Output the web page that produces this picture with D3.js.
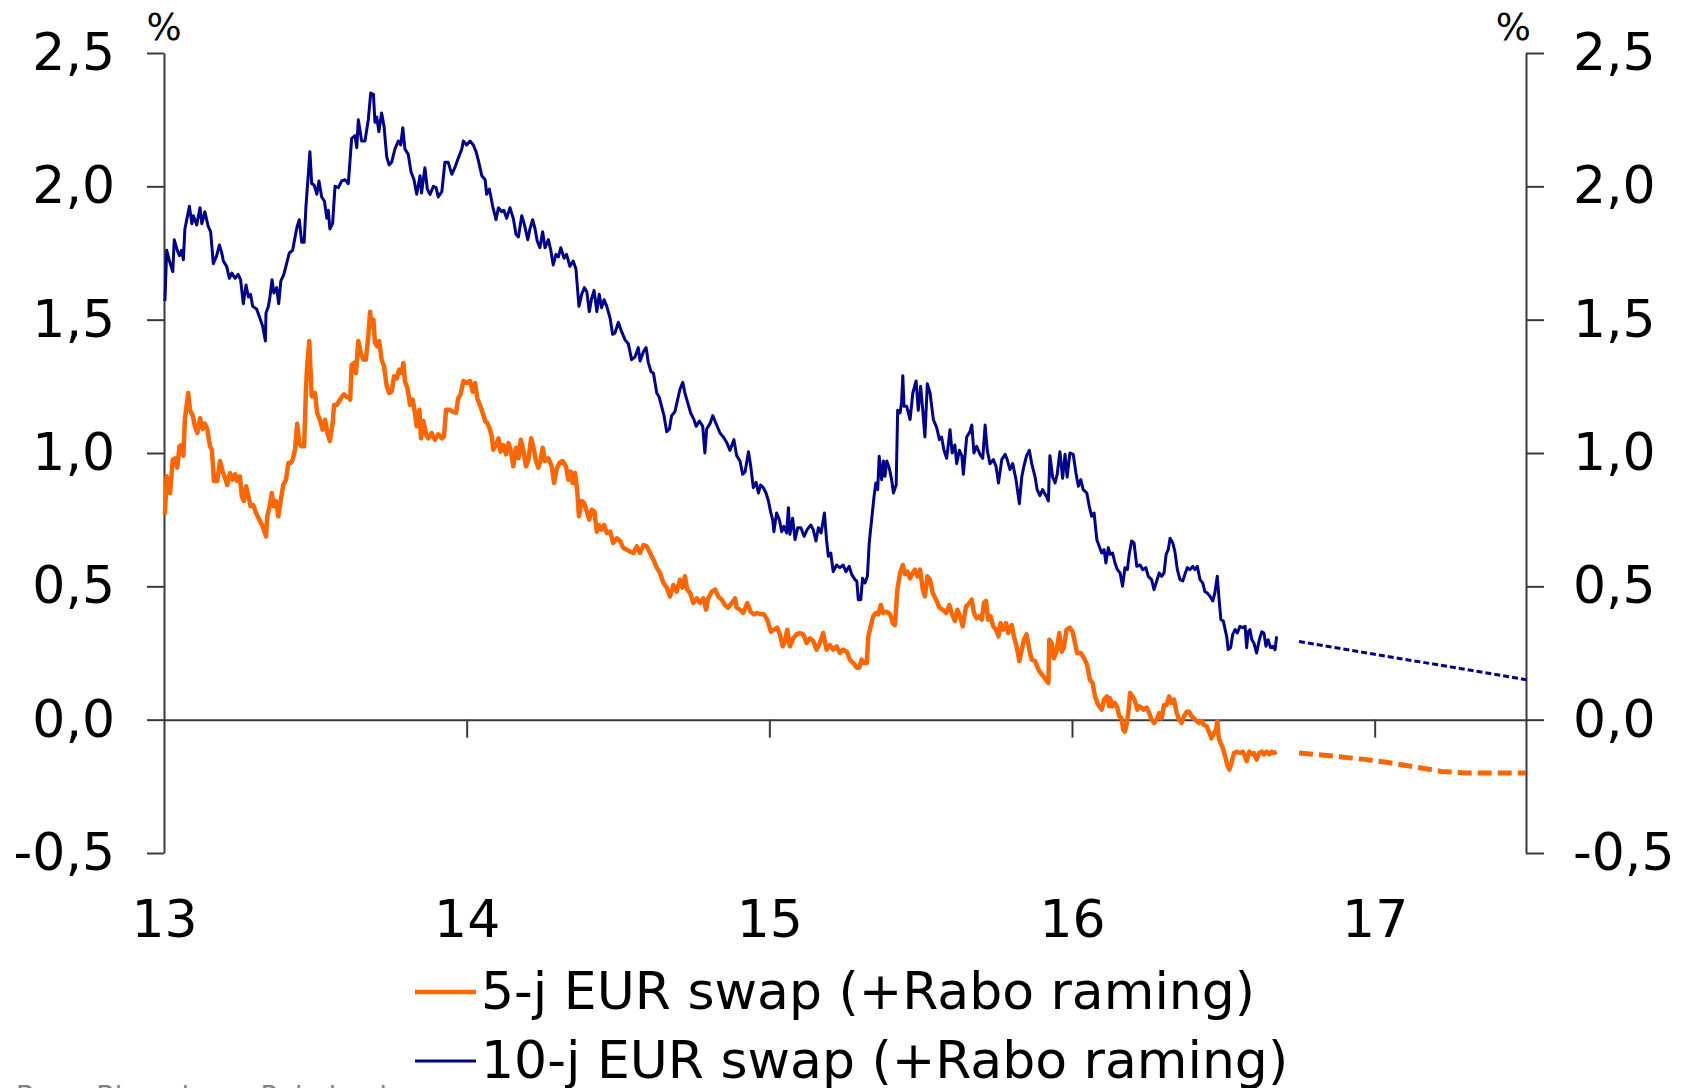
<!DOCTYPE html>
<html>
<head>
<meta charset="utf-8">
<script src="https://cdnjs.cloudflare.com/ajax/libs/d3/7.8.5/d3.min.js"></script>
<style>
  body { margin: 0; background: #ffffff; }
  svg text { font-family: "DejaVu Sans", Verdana, sans-serif; }
</style>
</head>
<body>
<div id="chart"></div>
<script>
// Tick values / labels
var yearTicks = [2013, 2014, 2015, 2016, 2017];
var rateTicks = [-0.5, 0, 0.5, 1, 1.5, 2, 2.5];
var seriesNames = ["5-j EUR swap (+Rabo raming)", "10-j EUR swap (+Rabo raming)"];
var sourceText = "Bron: Bloomberg, Rabobank";

// 10-year EUR swap, [decimal year, %]
var swap10 = [[2013.003,1.57],[2013.009,1.76],[2013.018,1.72],[2013.029,1.68],[2013.034,1.80],[2013.044,1.76],[2013.051,1.74],[2013.058,1.76],[2013.064,1.725],[2013.069,1.84],[2013.084,1.925],[2013.092,1.86],[2013.097,1.89],[2013.108,1.855],[2013.119,1.92],[2013.125,1.86],[2013.135,1.905],[2013.146,1.85],[2013.154,1.83],[2013.163,1.71],[2013.174,1.74],[2013.183,1.78],[2013.191,1.75],[2013.196,1.72],[2013.207,1.70],[2013.216,1.655],[2013.224,1.675],[2013.235,1.655],[2013.245,1.67],[2013.253,1.65],[2013.262,1.56],[2013.271,1.63],[2013.279,1.585],[2013.286,1.595],[2013.293,1.55],[2013.306,1.54],[2013.317,1.505],[2013.326,1.475],[2013.335,1.42],[2013.337,1.525],[2013.345,1.55],[2013.350,1.585],[2013.357,1.65],[2013.363,1.60],[2013.372,1.62],[2013.379,1.56],[2013.386,1.645],[2013.396,1.67],[2013.405,1.71],[2013.414,1.75],[2013.425,1.76],[2013.433,1.81],[2013.440,1.85],[2013.447,1.875],[2013.455,1.79],[2013.463,1.79],[2013.469,1.925],[2013.477,2.05],[2013.482,2.13],[2013.488,2.01],[2013.496,2.005],[2013.505,1.97],[2013.512,2.02],[2013.521,1.96],[2013.530,1.945],[2013.538,1.88],[2013.543,1.91],[2013.548,1.84],[2013.557,1.86],[2013.565,2.0],[2013.576,1.995],[2013.587,2.02],[2013.598,2.025],[2013.609,2.01],[2013.620,2.18],[2013.631,2.19],[2013.637,2.145],[2013.642,2.25],[2013.653,2.17],[2013.664,2.17],[2013.675,2.25],[2013.683,2.35],[2013.692,2.345],[2013.697,2.24],[2013.703,2.26],[2013.710,2.205],[2013.719,2.275],[2013.727,2.225],[2013.736,2.11],[2013.744,2.08],[2013.752,2.09],[2013.763,2.14],[2013.774,2.17],[2013.782,2.155],[2013.789,2.22],[2013.796,2.14],[2013.807,2.12],[2013.816,2.055],[2013.826,2.025],[2013.835,1.97],[2013.846,2.04],[2013.851,1.975],[2013.862,2.07],[2013.870,1.99],[2013.879,1.97],[2013.890,2.0],[2013.899,1.995],[2013.906,1.96],[2013.918,1.98],[2013.928,2.09],[2013.939,2.09],[2013.951,2.045],[2013.961,2.07],[2013.972,2.105],[2013.984,2.14],[2013.989,2.17],[2014.000,2.155],[2014.011,2.17],[2014.022,2.155],[2014.031,2.13],[2014.038,2.10],[2014.050,2.04],[2014.061,2.025],[2014.066,1.97],[2014.075,1.99],[2014.086,1.925],[2014.097,1.875],[2014.105,1.92],[2014.116,1.905],[2014.123,1.91],[2014.132,1.88],[2014.143,1.92],[2014.154,1.88],[2014.163,1.82],[2014.171,1.81],[2014.182,1.89],[2014.190,1.86],[2014.202,1.80],[2014.209,1.84],[2014.218,1.875],[2014.226,1.84],[2014.233,1.795],[2014.242,1.77],[2014.251,1.83],[2014.259,1.77],[2014.270,1.80],[2014.278,1.76],[2014.286,1.705],[2014.295,1.745],[2014.303,1.735],[2014.311,1.77],[2014.322,1.73],[2014.330,1.745],[2014.341,1.70],[2014.352,1.72],[2014.361,1.69],[2014.371,1.55],[2014.380,1.595],[2014.389,1.62],[2014.397,1.605],[2014.405,1.53],[2014.413,1.58],[2014.421,1.61],[2014.430,1.53],[2014.438,1.595],[2014.446,1.545],[2014.454,1.575],[2014.463,1.55],[2014.474,1.505],[2014.482,1.445],[2014.490,1.45],[2014.501,1.49],[2014.512,1.455],[2014.523,1.425],[2014.534,1.41],[2014.545,1.35],[2014.556,1.36],[2014.567,1.395],[2014.573,1.345],[2014.584,1.38],[2014.593,1.395],[2014.600,1.34],[2014.609,1.305],[2014.617,1.30],[2014.628,1.225],[2014.636,1.21],[2014.644,1.175],[2014.652,1.14],[2014.661,1.08],[2014.670,1.09],[2014.677,1.14],[2014.688,1.155],[2014.697,1.20],[2014.705,1.24],[2014.714,1.265],[2014.721,1.225],[2014.730,1.19],[2014.740,1.15],[2014.751,1.125],[2014.758,1.10],[2014.769,1.12],[2014.780,1.10],[2014.787,1.0],[2014.793,1.09],[2014.804,1.11],[2014.813,1.14],[2014.824,1.11],[2014.837,1.075],[2014.848,1.06],[2014.859,1.04],[2014.870,1.01],[2014.883,1.05],[2014.892,0.99],[2014.903,0.97],[2014.912,0.92],[2014.920,0.93],[2014.931,1.005],[2014.938,0.955],[2014.947,0.87],[2014.956,0.89],[2014.964,0.85],[2014.971,0.88],[2014.980,0.87],[2014.989,0.85],[2014.997,0.82],[2015.005,0.775],[2015.011,0.75],[2015.015,0.705],[2015.024,0.775],[2015.033,0.75],[2015.041,0.705],[2015.048,0.725],[2015.057,0.70],[2015.063,0.795],[2015.068,0.695],[2015.077,0.755],[2015.085,0.675],[2015.094,0.72],[2015.104,0.72],[2015.115,0.6875],[2015.125,0.7125],[2015.137,0.73],[2015.145,0.7125],[2015.154,0.67],[2015.162,0.72],[2015.171,0.70],[2015.182,0.775],[2015.189,0.675],[2015.195,0.6125],[2015.203,0.625],[2015.211,0.555],[2015.222,0.58],[2015.233,0.57],[2015.244,0.58],[2015.253,0.555],[2015.264,0.575],[2015.272,0.545],[2015.283,0.525],[2015.289,0.52],[2015.294,0.45],[2015.302,0.45],[2015.308,0.53],[2015.316,0.5125],[2015.324,0.5375],[2015.330,0.6625],[2015.338,0.75],[2015.346,0.8375],[2015.352,0.8875],[2015.358,0.8625],[2015.363,0.9875],[2015.371,0.90],[2015.377,0.97],[2015.382,0.9125],[2015.388,0.97],[2015.396,0.945],[2015.404,0.90],[2015.410,0.85],[2015.419,0.88],[2015.424,1.16],[2015.432,1.15],[2015.437,1.19],[2015.441,1.29],[2015.445,1.175],[2015.454,1.175],[2015.465,1.125],[2015.474,1.225],[2015.485,1.27],[2015.492,1.16],[2015.500,1.25],[2015.507,1.16],[2015.514,1.06],[2015.522,1.26],[2015.531,1.225],[2015.542,1.125],[2015.553,1.095],[2015.562,1.05],[2015.569,1.06],[2015.577,1.01],[2015.586,0.98],[2015.597,1.0875],[2015.604,1.0],[2015.613,1.03],[2015.619,0.96],[2015.628,1.01],[2015.636,0.99],[2015.641,0.92],[2015.652,1.06],[2015.663,1.08],[2015.669,1.105],[2015.676,1.0],[2015.685,1.025],[2015.696,0.995],[2015.705,0.98],[2015.713,1.105],[2015.720,1.01],[2015.729,0.96],[2015.740,0.975],[2015.749,0.95],[2015.757,0.8875],[2015.768,0.975],[2015.779,0.995],[2015.786,0.975],[2015.795,0.9375],[2015.804,0.96],[2015.815,0.90],[2015.826,0.81],[2015.834,0.91],[2015.841,0.95],[2015.850,0.99],[2015.859,1.01],[2015.867,0.96],[2015.878,0.91],[2015.885,0.8625],[2015.894,0.84],[2015.903,0.8625],[2015.914,0.84],[2015.922,0.82],[2015.927,0.99],[2015.936,0.91],[2015.944,0.8875],[2015.951,0.92],[2015.960,1.005],[2015.969,0.905],[2015.977,0.995],[2015.984,0.91],[2015.993,1.0],[2016.004,0.995],[2016.013,0.925],[2016.021,0.875],[2016.029,0.90],[2016.037,0.8625],[2016.049,0.85],[2016.057,0.80],[2016.065,0.7625],[2016.073,0.775],[2016.082,0.675],[2016.090,0.65],[2016.098,0.625],[2016.106,0.6375],[2016.112,0.5875],[2016.120,0.645],[2016.126,0.62],[2016.134,0.625],[2016.142,0.5875],[2016.150,0.5625],[2016.159,0.55],[2016.167,0.50],[2016.175,0.57],[2016.183,0.5625],[2016.189,0.62],[2016.197,0.67],[2016.205,0.6625],[2016.214,0.575],[2016.225,0.58],[2016.234,0.5625],[2016.244,0.57],[2016.252,0.5375],[2016.263,0.525],[2016.271,0.4875],[2016.280,0.52],[2016.288,0.55],[2016.296,0.5375],[2016.304,0.55],[2016.311,0.62],[2016.318,0.6375],[2016.324,0.68],[2016.333,0.6625],[2016.340,0.63],[2016.348,0.5625],[2016.357,0.525],[2016.366,0.52],[2016.373,0.545],[2016.381,0.57],[2016.390,0.5625],[2016.399,0.575],[2016.406,0.5625],[2016.414,0.575],[2016.423,0.525],[2016.432,0.5125],[2016.439,0.48],[2016.447,0.475],[2016.456,0.4625],[2016.465,0.445],[2016.472,0.475],[2016.480,0.5375],[2016.487,0.4375],[2016.492,0.375],[2016.500,0.37],[2016.506,0.3375],[2016.511,0.3125],[2016.516,0.2625],[2016.524,0.27],[2016.531,0.32],[2016.539,0.3375],[2016.546,0.325],[2016.555,0.35],[2016.564,0.345],[2016.572,0.35],[2016.577,0.27],[2016.582,0.33],[2016.588,0.3375],[2016.594,0.30],[2016.601,0.2875],[2016.610,0.25],[2016.619,0.30],[2016.627,0.33],[2016.634,0.325],[2016.641,0.275],[2016.648,0.30],[2016.656,0.27],[2016.665,0.275],[2016.671,0.2625],[2016.676,0.3125]];

// 5-year EUR swap, [decimal year, %]
var swap5 = [[2013.003,0.77],[2013.009,0.9125],[2013.020,0.85],[2013.029,0.975],[2013.036,0.98],[2013.044,0.945],[2013.051,1.025],[2013.058,1.03],[2013.064,0.99],[2013.069,1.125],[2013.080,1.225],[2013.086,1.16],[2013.095,1.14],[2013.102,1.10],[2013.110,1.075],[2013.119,1.13],[2013.128,1.09],[2013.135,1.11],[2013.143,1.09],[2013.152,1.025],[2013.158,1.0125],[2013.165,0.895],[2013.176,0.895],[2013.185,0.97],[2013.194,0.93],[2013.202,0.905],[2013.209,0.88],[2013.218,0.925],[2013.227,0.90],[2013.235,0.92],[2013.242,0.895],[2013.251,0.9125],[2013.257,0.8375],[2013.264,0.82],[2013.271,0.875],[2013.279,0.8375],[2013.286,0.80],[2013.295,0.805],[2013.304,0.775],[2013.315,0.75],[2013.326,0.725],[2013.337,0.6875],[2013.341,0.7625],[2013.348,0.795],[2013.356,0.85],[2013.363,0.80],[2013.370,0.82],[2013.378,0.7625],[2013.386,0.825],[2013.394,0.88],[2013.403,0.90],[2013.411,0.9625],[2013.419,0.9625],[2013.425,0.975],[2013.433,1.0125],[2013.440,1.11],[2013.447,1.0375],[2013.455,1.025],[2013.463,1.025],[2013.469,1.2375],[2013.473,1.325],[2013.480,1.42],[2013.488,1.2125],[2013.499,1.225],[2013.506,1.15],[2013.515,1.125],[2013.524,1.0875],[2013.532,1.125],[2013.540,1.075],[2013.548,1.045],[2013.557,1.11],[2013.562,1.18],[2013.571,1.18],[2013.579,1.195],[2013.587,1.21],[2013.595,1.22],[2013.604,1.21],[2013.612,1.21],[2013.615,1.20],[2013.620,1.33],[2013.628,1.3375],[2013.634,1.30],[2013.642,1.42],[2013.650,1.375],[2013.659,1.35],[2013.667,1.35],[2013.675,1.4375],[2013.681,1.53],[2013.686,1.475],[2013.692,1.50],[2013.697,1.4125],[2013.705,1.40],[2013.711,1.42],[2013.719,1.35],[2013.727,1.325],[2013.736,1.25],[2013.744,1.225],[2013.752,1.23],[2013.760,1.2875],[2013.769,1.28],[2013.777,1.3125],[2013.785,1.30],[2013.791,1.3375],[2013.796,1.27],[2013.804,1.245],[2013.813,1.18],[2013.822,1.20],[2013.829,1.15],[2013.835,1.10],[2013.844,1.1625],[2013.849,1.055],[2013.857,1.12],[2013.866,1.07],[2013.873,1.055],[2013.884,1.075],[2013.895,1.05],[2013.906,1.07],[2013.918,1.055],[2013.925,1.0625],[2013.932,1.1625],[2013.943,1.1625],[2013.954,1.155],[2013.965,1.15],[2013.972,1.205],[2013.980,1.22],[2013.989,1.27],[2014.000,1.2625],[2014.011,1.27],[2014.020,1.23],[2014.028,1.2625],[2014.035,1.205],[2014.044,1.18],[2014.053,1.15],[2014.061,1.12],[2014.068,1.1125],[2014.075,1.095],[2014.083,1.0625],[2014.088,1.0125],[2014.097,1.03],[2014.105,1.055],[2014.112,1.005],[2014.121,1.03],[2014.130,0.995],[2014.138,1.0375],[2014.145,1.0125],[2014.154,0.95],[2014.163,1.02],[2014.171,0.98],[2014.179,1.05],[2014.187,1.0125],[2014.196,0.95],[2014.204,0.975],[2014.213,1.055],[2014.220,1.025],[2014.229,0.97],[2014.237,0.945],[2014.245,0.975],[2014.251,1.02],[2014.259,0.97],[2014.270,0.98],[2014.281,0.95],[2014.289,0.8875],[2014.297,0.9375],[2014.306,0.9625],[2014.317,0.97],[2014.328,0.95],[2014.336,0.90],[2014.344,0.93],[2014.350,0.8875],[2014.358,0.925],[2014.365,0.8625],[2014.371,0.7625],[2014.380,0.82],[2014.388,0.8125],[2014.397,0.78],[2014.405,0.75],[2014.413,0.7875],[2014.422,0.78],[2014.430,0.705],[2014.438,0.73],[2014.446,0.7125],[2014.454,0.73],[2014.463,0.70],[2014.474,0.705],[2014.484,0.6625],[2014.496,0.68],[2014.507,0.67],[2014.517,0.645],[2014.529,0.6375],[2014.540,0.63],[2014.551,0.625],[2014.562,0.65],[2014.573,0.625],[2014.584,0.655],[2014.595,0.65],[2014.606,0.625],[2014.617,0.60],[2014.628,0.57],[2014.639,0.55],[2014.650,0.5125],[2014.661,0.495],[2014.672,0.4625],[2014.683,0.505],[2014.694,0.48],[2014.705,0.525],[2014.714,0.495],[2014.721,0.5375],[2014.729,0.4875],[2014.738,0.475],[2014.749,0.4375],[2014.760,0.455],[2014.771,0.4375],[2014.782,0.455],[2014.791,0.4125],[2014.798,0.455],[2014.810,0.48],[2014.821,0.4875],[2014.831,0.4625],[2014.843,0.45],[2014.853,0.43],[2014.864,0.42],[2014.876,0.4375],[2014.887,0.455],[2014.892,0.42],[2014.903,0.4125],[2014.914,0.40],[2014.927,0.4375],[2014.938,0.405],[2014.949,0.395],[2014.960,0.40],[2014.971,0.395],[2014.982,0.395],[2014.993,0.375],[2015.005,0.33],[2015.015,0.3375],[2015.026,0.345],[2015.035,0.32],[2015.044,0.275],[2015.052,0.295],[2015.059,0.3375],[2015.068,0.275],[2015.079,0.305],[2015.090,0.32],[2015.101,0.325],[2015.112,0.32],[2015.123,0.2875],[2015.134,0.305],[2015.145,0.295],[2015.156,0.2625],[2015.167,0.2875],[2015.178,0.325],[2015.189,0.2625],[2015.200,0.28],[2015.211,0.2625],[2015.222,0.275],[2015.233,0.25],[2015.244,0.2625],[2015.256,0.255],[2015.266,0.225],[2015.277,0.2125],[2015.289,0.195],[2015.297,0.195],[2015.305,0.225],[2015.313,0.2125],[2015.322,0.2125],[2015.327,0.3125],[2015.335,0.35],[2015.343,0.3875],[2015.352,0.40],[2015.360,0.395],[2015.368,0.43],[2015.376,0.40],[2015.388,0.405],[2015.399,0.395],[2015.408,0.3625],[2015.415,0.355],[2015.423,0.4875],[2015.432,0.55],[2015.441,0.58],[2015.448,0.545],[2015.456,0.555],[2015.465,0.53],[2015.474,0.55],[2015.481,0.5625],[2015.489,0.5375],[2015.498,0.5625],[2015.507,0.4875],[2015.514,0.4625],[2015.522,0.5375],[2015.531,0.525],[2015.540,0.475],[2015.551,0.45],[2015.562,0.42],[2015.573,0.4125],[2015.584,0.40],[2015.595,0.43],[2015.602,0.40],[2015.613,0.37],[2015.621,0.4125],[2015.630,0.3875],[2015.639,0.35],[2015.650,0.425],[2015.661,0.4375],[2015.669,0.45],[2015.676,0.40],[2015.685,0.38],[2015.694,0.3875],[2015.702,0.375],[2015.709,0.4375],[2015.716,0.445],[2015.723,0.375],[2015.731,0.3875],[2015.740,0.35],[2015.749,0.3375],[2015.757,0.3125],[2015.764,0.3625],[2015.773,0.3375],[2015.782,0.3625],[2015.789,0.325],[2015.801,0.355],[2015.808,0.3125],[2015.817,0.275],[2015.826,0.22],[2015.834,0.2625],[2015.841,0.30],[2015.850,0.32],[2015.859,0.2625],[2015.867,0.225],[2015.878,0.22],[2015.889,0.1875],[2015.900,0.17],[2015.911,0.155],[2015.922,0.1375],[2015.925,0.30],[2015.933,0.2875],[2015.940,0.23],[2015.949,0.255],[2015.958,0.325],[2015.966,0.255],[2015.973,0.27],[2015.982,0.3375],[2015.993,0.345],[2016.002,0.33],[2016.010,0.2875],[2016.017,0.25],[2016.029,0.25],[2016.040,0.23],[2016.050,0.205],[2016.059,0.15],[2016.068,0.1375],[2016.076,0.0875],[2016.087,0.055],[2016.098,0.0375],[2016.106,0.075],[2016.115,0.0875],[2016.123,0.05],[2016.126,0.08],[2016.134,0.05],[2016.142,0.0625],[2016.150,0.045],[2016.156,0.0125],[2016.164,0.005],[2016.169,-0.0375],[2016.175,-0.045],[2016.181,-0.0125],[2016.186,0.025],[2016.192,0.10],[2016.200,0.0875],[2016.208,0.07],[2016.216,0.0375],[2016.222,0.05],[2016.230,0.045],[2016.238,0.0375],[2016.247,0.045],[2016.255,0.025],[2016.263,0.0],[2016.271,-0.0125],[2016.280,0.0],[2016.288,0.025],[2016.296,0.005],[2016.304,0.055],[2016.313,0.055],[2016.321,0.0875],[2016.329,0.0625],[2016.337,0.075],[2016.346,0.025],[2016.354,0.0],[2016.362,-0.0125],[2016.370,0.0125],[2016.379,0.03],[2016.387,0.03],[2016.395,0.0125],[2016.403,0.005],[2016.412,-0.005],[2016.420,-0.0125],[2016.428,-0.005],[2016.436,-0.02],[2016.445,-0.025],[2016.454,-0.05],[2016.461,-0.07],[2016.469,-0.05],[2016.476,-0.0375],[2016.480,-0.005],[2016.485,-0.07],[2016.491,-0.0875],[2016.498,-0.105],[2016.506,-0.1375],[2016.513,-0.17],[2016.520,-0.1875],[2016.527,-0.1625],[2016.535,-0.125],[2016.544,-0.12],[2016.555,-0.125],[2016.564,-0.12],[2016.572,-0.1375],[2016.577,-0.155],[2016.586,-0.12],[2016.594,-0.13],[2016.601,-0.125],[2016.610,-0.15],[2016.619,-0.125],[2016.627,-0.12],[2016.634,-0.13],[2016.643,-0.12],[2016.652,-0.13],[2016.660,-0.12],[2016.667,-0.125],[2016.676,-0.12]];

// Rabo forecasts
var swap10Forecast = [[2016.75,0.293],[2017.0,0.245],[2017.25,0.198],[2017.5,0.15]];
var swap5Forecast = [[2016.75,-0.125],[2016.85,-0.135],[2016.96,-0.148],[2017.04,-0.16],[2017.12,-0.175],[2017.22,-0.194],[2017.30,-0.20],[2017.5,-0.20]];

var orange = "#ff6600";
var navy = "#00008c";
var axisColor = "#3a3a3a";

// SVG area
var svgWidth = 1689;
var svgHeight = 1088;
var plot = { left: 164, right: 1526, top: 53, bottom: 853 };

var svg = d3.select("#chart")
    .append("svg")
    .attr("width", svgWidth)
    .attr("height", svgHeight)
    .style("display", "block");

var xScale = d3.scaleLinear()
    .domain([2013, 2017.5])
    .range([plot.left, plot.right]);

var yScale = d3.scaleLinear()
    .domain([-0.5, 2.5])
    .range([plot.bottom, plot.top]);

var rateFormat = function (d) { return d.toFixed(1).replace(".", ","); };

function styleAxis(g) {
    g.attr("font-size", 52).attr("font-family", "'DejaVu Sans', Verdana, sans-serif");
    g.selectAll("path, line").attr("stroke", axisColor).attr("stroke-width", 2);
    g.selectAll("text").attr("fill", "#000");
}

// y axes, left and right
svg.append("g")
    .attr("transform", `translate(${plot.left}, 0)`)
    .call(d3.axisLeft(yScale).tickValues(rateTicks).tickSize(17).tickSizeOuter(0).tickPadding(32).tickFormat(rateFormat))
    .call(styleAxis);

svg.append("g")
    .attr("transform", `translate(${plot.right}, 0)`)
    .call(d3.axisRight(yScale).tickValues(rateTicks).tickSize(18).tickSizeOuter(0).tickPadding(29).tickFormat(rateFormat))
    .call(styleAxis);

// zero line with the year ticks
svg.append("g")
    .attr("transform", `translate(0, ${yScale(0)})`)
    .call(d3.axisBottom(xScale).tickValues(yearTicks.slice(1)).tickSize(18).tickSizeOuter(0).tickFormat(""))
    .call(styleAxis);

// year labels below the plot
svg.append("g")
    .attr("transform", `translate(0, ${plot.bottom})`)
    .call(d3.axisBottom(xScale).tickValues(yearTicks).tickSize(0).tickPadding(47).tickFormat(function (d) { return String(d).slice(2); }))
    .call(styleAxis)
    .call(function (g) { g.select(".domain").remove(); });

// unit labels
svg.append("text")
    .attr("x", plot.left)
    .attr("y", 40)
    .attr("text-anchor", "middle")
    .attr("font-size", 37)
    .text("%");

svg.append("text")
    .attr("x", plot.right + 5)
    .attr("y", 40)
    .attr("text-anchor", "end")
    .attr("font-size", 37)
    .text("%");

// lines
var line = d3.line()
    .x(d => xScale(d[0]))
    .y(d => yScale(d[1]));

svg.append("path")
    .datum(swap10)
    .attr("fill", "none")
    .attr("stroke", navy)
    .attr("stroke-width", 3)
    .attr("stroke-linejoin", "round")
    .attr("d", line);

svg.append("path")
    .datum(swap10Forecast)
    .attr("fill", "none")
    .attr("stroke", navy)
    .attr("stroke-width", 3)
    .attr("stroke-dasharray", "6,3")
    .attr("d", line);

svg.append("path")
    .datum(swap5)
    .attr("fill", "none")
    .attr("stroke", orange)
    .attr("stroke-width", 4.5)
    .attr("stroke-linejoin", "round")
    .attr("d", line);

svg.append("path")
    .datum(swap5Forecast)
    .attr("fill", "none")
    .attr("stroke", orange)
    .attr("stroke-width", 5)
    .attr("stroke-dasharray", "14,6")
    .attr("d", line);

// legend
var legendColors = [orange, navy];
var legendWidths = [4.5, 3];
seriesNames.forEach(function (name, i) {
    var ly = 992 + i * 69;
    svg.append("line")
        .attr("x1", 415).attr("x2", 476)
        .attr("y1", ly).attr("y2", ly)
        .attr("stroke", legendColors[i])
        .attr("stroke-width", legendWidths[i]);
    svg.append("text")
        .attr("x", 481)
        .attr("y", ly + 17)
        .attr("font-size", 52)
        .attr("fill", "#000")
        .text(name);
});

// source, mostly cut off at the bottom edge
svg.append("text")
    .attr("x", 16)
    .attr("y", 1105)
    .attr("font-size", 27)
    .attr("fill", "#808080")
    .text(sourceText);
</script>
</body>
</html>
